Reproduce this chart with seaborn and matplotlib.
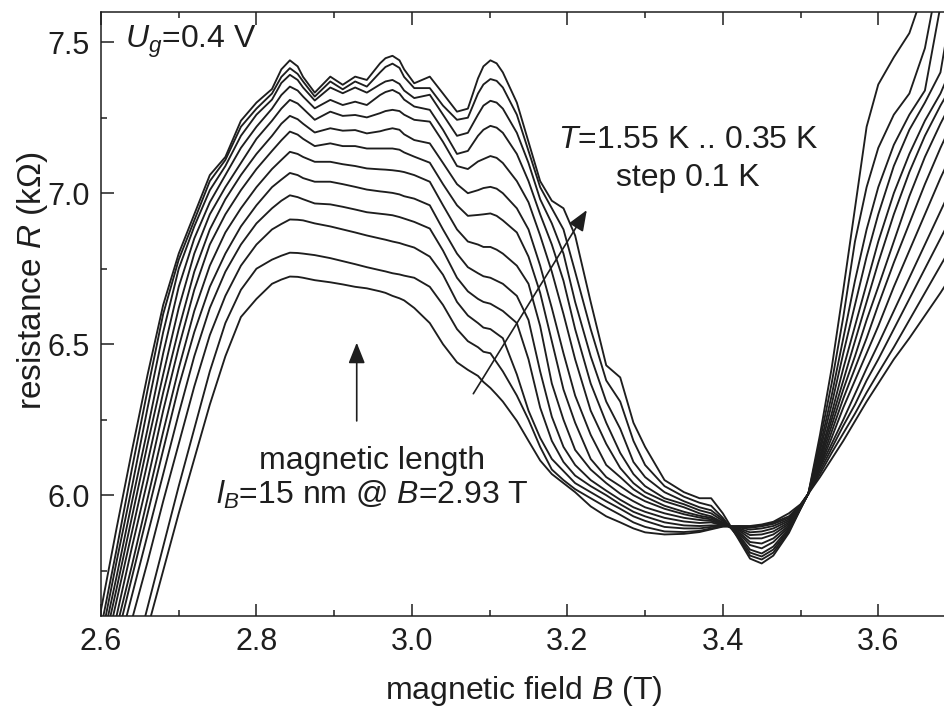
import numpy as np
import pandas as pd
import matplotlib
matplotlib.use("Agg")
import matplotlib.pyplot as plt
import seaborn as sns

# ---------------- data ----------------
field_B = [2.58, 2.60, 2.62, 2.64, 2.66, 2.68, 2.70, 2.72, 2.74, 2.76, 2.78, 2.80, 2.82,
           2.832, 2.843, 2.853,
           2.86, 2.875, 2.895, 2.911, 2.927, 2.942, 2.959,
           2.966, 2.975, 2.984,
           2.99, 3.003, 3.023, 3.04, 3.058, 3.072, 3.085,
           3.092, 3.101, 3.109,
           3.117, 3.135, 3.15, 3.165, 3.18, 3.195, 3.21, 3.23, 3.25, 3.268,
           3.285, 3.30, 3.325, 3.35, 3.37, 3.385, 3.40, 3.42, 3.435, 3.45,
           3.465, 3.485, 3.50, 3.51, 3.525, 3.54, 3.555, 3.57, 3.585, 3.60,
           3.62, 3.64, 3.66, 3.68, 3.70]

R_035 = [5.35, 5.62, 5.89, 6.15, 6.40, 6.63, 6.80, 6.93, 7.06, 7.12, 7.24, 7.30, 7.345,
         7.41, 7.44, 7.42,
         7.385, 7.333, 7.386, 7.359, 7.386, 7.375, 7.43,
         7.447, 7.455, 7.44,
         7.41, 7.364, 7.386, 7.33, 7.27, 7.28, 7.38,
         7.42, 7.44, 7.43,
         7.40, 7.30, 7.17, 7.04, 6.975, 6.95, 6.86, 6.64, 6.43, 6.39,
         6.24, 6.16, 6.05, 6.01, 5.99, 5.99, 5.94, 5.855, 5.79, 5.774,
         5.80, 5.875, 5.955, 6.005, 6.20, 6.42, 6.68, 6.95, 7.22, 7.36,
         7.45, 7.53, 7.68, 7.85, 8.0]
R_045 = [5.30, 5.56, 5.82, 6.09, 6.35, 6.60, 6.78, 6.91, 7.04, 7.11, 7.22, 7.28, 7.33,
         7.385, 7.414, 7.395,
         7.37, 7.32, 7.37, 7.344, 7.37, 7.353, 7.40,
         7.418, 7.429, 7.415,
         7.385, 7.348, 7.348, 7.29, 7.243, 7.25, 7.33,
         7.36, 7.378, 7.372,
         7.35, 7.26, 7.14, 7.02, 6.95, 6.88, 6.74, 6.55, 6.38, 6.31,
         6.18, 6.10, 6.03, 5.995, 5.975, 5.965, 5.925, 5.86, 5.80, 5.787,
         5.81, 5.88, 5.955, 6.005, 6.18, 6.37, 6.59, 6.84, 7.02, 7.15,
         7.26, 7.33, 7.48, 7.75, 8.0]
R_055 = [5.27, 5.52, 5.78, 6.03, 6.29, 6.54, 6.75, 6.89, 7.01, 7.09, 7.19, 7.26, 7.31,
         7.365, 7.392, 7.375,
         7.35, 7.307, 7.35, 7.331, 7.35, 7.333, 7.36,
         7.37, 7.375, 7.362,
         7.34, 7.315, 7.326, 7.26, 7.19, 7.20, 7.26,
         7.29, 7.306, 7.30,
         7.28, 7.20, 7.10, 6.98, 6.90, 6.80, 6.64, 6.46, 6.31, 6.22,
         6.11, 6.06, 6.01, 5.98, 5.96, 5.95, 5.92, 5.865, 5.81, 5.797,
         5.82, 5.885, 5.957, 6.005, 6.16, 6.33, 6.52, 6.71, 6.88, 7.02,
         7.16, 7.26, 7.34, 7.62, 7.9]
R_065 = [5.25, 5.49, 5.73, 5.98, 6.22, 6.47, 6.69, 6.85, 6.97, 7.06, 7.15, 7.22, 7.28,
         7.325, 7.353, 7.34,
         7.32, 7.281, 7.309, 7.292, 7.303, 7.292, 7.325,
         7.335, 7.342, 7.33,
         7.31, 7.287, 7.276, 7.21, 7.13, 7.14, 7.19,
         7.21, 7.223, 7.217,
         7.20, 7.13, 7.04, 6.93, 6.83, 6.71, 6.55, 6.37, 6.24, 6.14,
         6.07, 6.03, 5.99, 5.97, 5.95, 5.94, 5.915, 5.87, 5.82, 5.807,
         5.83, 5.89, 5.958, 6.005, 6.145, 6.30, 6.47, 6.63, 6.79, 6.93,
         7.09, 7.21, 7.30, 7.40, 7.7]
R_075 = [5.22, 5.46, 5.69, 5.93, 6.17, 6.40, 6.62, 6.80, 6.93, 7.02, 7.10, 7.18, 7.24,
         7.28, 7.309, 7.297,
         7.28, 7.243, 7.27, 7.256, 7.259, 7.251, 7.265,
         7.272, 7.276, 7.272,
         7.26, 7.243, 7.237, 7.17, 7.09, 7.08, 7.105,
         7.113, 7.123, 7.117,
         7.10, 7.04, 6.97, 6.86, 6.74, 6.60, 6.45, 6.28, 6.17, 6.09,
         6.04, 6.01, 5.98, 5.96, 5.94, 5.93, 5.91, 5.875, 5.835, 5.824,
         5.845, 5.895, 5.96, 6.005, 6.13, 6.27, 6.42, 6.56, 6.70, 6.84,
         7.00, 7.13, 7.24, 7.33, 7.45]
R_085 = [5.19, 5.42, 5.65, 5.88, 6.11, 6.34, 6.55, 6.74, 6.88, 6.98, 7.06, 7.13, 7.19,
         7.23, 7.256, 7.245,
         7.23, 7.201, 7.215, 7.207, 7.209, 7.198, 7.205,
         7.21, 7.215, 7.21,
         7.195, 7.176, 7.165, 7.10, 7.03, 7.00, 7.01,
         7.017, 7.021, 7.015,
         7.00, 6.95, 6.88, 6.76, 6.62, 6.47, 6.33, 6.20, 6.10, 6.06,
         6.02, 5.995, 5.965, 5.945, 5.932, 5.925, 5.907, 5.88, 5.845, 5.840,
         5.857, 5.90, 5.961, 6.005, 6.12, 6.25, 6.38, 6.51, 6.64, 6.77,
         6.93, 7.07, 7.19, 7.29, 7.38]
R_095 = [5.15, 5.37, 5.60, 5.83, 6.05, 6.28, 6.49, 6.68, 6.83, 6.93, 7.01, 7.08, 7.14,
         7.175, 7.204, 7.194,
         7.18, 7.156, 7.165, 7.156, 7.156, 7.148, 7.148,
         7.148, 7.148, 7.144,
         7.135, 7.121, 7.101, 7.03, 6.96, 6.925, 6.928,
         6.93, 6.933, 6.925,
         6.91, 6.87, 6.79, 6.67, 6.51, 6.35, 6.24, 6.12, 6.06, 6.03,
         6.00, 5.98, 5.955, 5.937, 5.926, 5.92, 5.905, 5.885, 5.857, 5.857,
         5.87, 5.905, 5.962, 6.005, 6.11, 6.23, 6.35, 6.46, 6.58, 6.69,
         6.84, 6.99, 7.12, 7.23, 7.33]
R_105 = [5.12, 5.34, 5.56, 5.77, 5.99, 6.21, 6.42, 6.61, 6.76, 6.87, 6.95, 7.02, 7.08,
         7.11, 7.137, 7.13,
         7.12, 7.104, 7.104, 7.096, 7.09, 7.082, 7.079,
         7.078, 7.076, 7.073,
         7.07, 7.06, 7.038, 6.96, 6.88, 6.84, 6.83,
         6.822, 6.822, 6.813,
         6.80, 6.76, 6.70, 6.56, 6.37, 6.25, 6.15, 6.085, 6.04, 6.005,
         5.98, 5.96, 5.94, 5.925, 5.918, 5.915, 5.903, 5.888, 5.868, 5.870,
         5.88, 5.91, 5.963, 6.005, 6.10, 6.21, 6.32, 6.42, 6.52, 6.63,
         6.77, 6.90, 7.03, 7.15, 7.26]
R_115 = [5.09, 5.30, 5.52, 5.73, 5.94, 6.15, 6.36, 6.54, 6.69, 6.80, 6.89, 6.96, 7.02,
         7.045, 7.067, 7.06,
         7.05, 7.038, 7.038, 7.03, 7.021, 7.012, 7.006,
         7.004, 7.001, 6.996,
         6.99, 6.982, 6.96, 6.88, 6.80, 6.755, 6.735,
         6.725, 6.72, 6.71,
         6.70, 6.66, 6.58, 6.41, 6.26, 6.16, 6.10, 6.05, 6.015, 5.985,
         5.96, 5.945, 5.925, 5.913, 5.908, 5.91, 5.90, 5.891, 5.877, 5.880,
         5.89, 5.915, 5.964, 6.005, 6.095, 6.19, 6.29, 6.38, 6.47, 6.56,
         6.69, 6.81, 6.93, 7.05, 7.16]
R_125 = [5.07, 5.27, 5.47, 5.67, 5.87, 6.07, 6.27, 6.46, 6.62, 6.74, 6.83, 6.90, 6.95,
         6.975, 6.993, 6.987,
         6.98, 6.966, 6.963, 6.955, 6.946, 6.937, 6.932,
         6.93, 6.927, 6.921,
         6.916, 6.905, 6.883, 6.81, 6.72, 6.675, 6.65,
         6.64, 6.634, 6.622,
         6.61, 6.57, 6.45, 6.29, 6.18, 6.11, 6.065, 6.03, 6.00, 5.97,
         5.945, 5.93, 5.91, 5.90, 5.898, 5.90, 5.90, 5.894, 5.886, 5.890,
         5.898, 5.92, 5.965, 6.005, 6.09, 6.17, 6.25, 6.335, 6.42, 6.50,
         6.61, 6.72, 6.83, 6.94, 7.05]
R_135 = [5.01, 5.20, 5.40, 5.59, 5.78, 5.98, 6.17, 6.36, 6.53, 6.66, 6.76, 6.83, 6.88,
         6.898, 6.913, 6.912,
         6.91, 6.90, 6.89, 6.88, 6.87, 6.86, 6.85,
         6.846, 6.84, 6.835,
         6.83, 6.82, 6.79, 6.73, 6.64, 6.595, 6.57,
         6.555, 6.55, 6.535,
         6.52, 6.40, 6.28, 6.19, 6.12, 6.08, 6.04, 6.01, 5.98, 5.955,
         5.93, 5.915, 5.895, 5.89, 5.89, 5.895, 5.898, 5.896, 5.892, 5.897,
         5.905, 5.925, 5.966, 6.005, 6.08, 6.155, 6.23, 6.30, 6.38, 6.45,
         6.55, 6.65, 6.75, 6.85, 6.95]
R_145 = [4.86, 5.03, 5.23, 5.43, 5.63, 5.83, 6.03, 6.22, 6.41, 6.57, 6.68, 6.75, 6.78,
         6.793, 6.803, 6.802,
         6.80, 6.795, 6.785, 6.775, 6.765, 6.755, 6.745,
         6.741, 6.735, 6.731,
         6.727, 6.72, 6.69, 6.63, 6.55, 6.51, 6.49,
         6.475, 6.47, 6.44,
         6.41, 6.33, 6.25, 6.16, 6.085, 6.05, 6.02, 5.99, 5.96, 5.935,
         5.91, 5.895, 5.88, 5.878, 5.882, 5.89, 5.897, 5.897, 5.896, 5.900,
         5.909, 5.93, 5.968, 6.005, 6.07, 6.14, 6.205, 6.27, 6.34, 6.405,
         6.49, 6.58, 6.67, 6.76, 6.85]
R_155 = [4.80, 5.01, 5.20, 5.38, 5.56, 5.75, 5.94, 6.12, 6.30, 6.46, 6.59, 6.65, 6.70,
         6.714, 6.724, 6.723,
         6.72, 6.712, 6.705, 6.698, 6.69, 6.685, 6.675,
         6.67, 6.66, 6.652,
         6.645, 6.62, 6.57, 6.50, 6.44, 6.415, 6.395,
         6.375, 6.355, 6.333,
         6.31, 6.246, 6.18, 6.115, 6.07, 6.04, 6.01, 5.963, 5.93, 5.91,
         5.89, 5.877, 5.87, 5.872, 5.878, 5.887, 5.896, 5.898, 5.898, 5.903,
         5.912, 5.94, 5.97, 6.005, 6.06, 6.12, 6.18, 6.245, 6.31, 6.37,
         6.45, 6.52, 6.595, 6.67, 6.75]

temperatures = [0.35, 0.45, 0.55, 0.65, 0.75, 0.85, 0.95, 1.05, 1.15, 1.25, 1.35, 1.45, 1.55]
curves = [R_035, R_045, R_055, R_065, R_075, R_085, R_095, R_105, R_115, R_125, R_135, R_145, R_155]

x_ticks = [2.6, 2.8, 3.0, 3.2, 3.4, 3.6]
y_ticks = [6.0, 6.5, 7.0, 7.5]

# ---------------- style ----------------
sns.set_style("ticks")
plt.rcParams['font.family'] = ['Liberation Sans', 'DejaVu Sans']
plt.rcParams['mathtext.fontset'] = 'custom'
plt.rcParams['mathtext.rm'] = 'Liberation Sans'
plt.rcParams['mathtext.it'] = 'Liberation Sans:italic'
plt.rcParams['mathtext.default'] = 'it'

ink = '#1e1e1e'
fs_tick = 22
fs_text = 23

frames = []
for T, R in zip(temperatures, curves):
    frames.append(pd.DataFrame({'B': field_B, 'R': R, 'T': T}))
df = pd.concat(frames, ignore_index=True)

fig = plt.figure(figsize=(9.44, 7.09), dpi=100)
ax = fig.add_axes([101 / 944, 93 / 709, 855 / 944, 604 / 709])

sns.lineplot(data=df, x='B', y='R', units='T', estimator=None, sort=False,
             color=ink, linewidth=1.35, ax=ax, legend=False)
for ln in ax.lines:
    ln.set_solid_joinstyle('round')

ax.set_xlim(2.6, 3.7)
ax.set_ylim(5.6, 7.6)
ax.set_xticks(x_ticks)
ax.set_xticklabels([f"{v:.1f}" for v in x_ticks])
ax.set_yticks(y_ticks)
ax.set_yticklabels([f"{v:.1f}" for v in y_ticks])
ax.xaxis.set_minor_locator(matplotlib.ticker.MultipleLocator(0.1))
ax.yaxis.set_minor_locator(matplotlib.ticker.MultipleLocator(0.25))
ax.tick_params(which='both', direction='in', top=True, right=True, color=ink, width=1.1)
ax.tick_params(which='major', length=9, labelsize=fs_tick, pad=8, labelcolor=ink)
ax.tick_params(which='minor', length=4.5)
for s in ax.spines.values():
    s.set_linewidth(1.1)
    s.set_color(ink)
    s.set_visible(True)

ax.set_xlabel("magnetic field $B$ (T)", fontsize=fs_text, color=ink)
ax.set_ylabel("resistance $R$ (k$\\mathrm{\\Omega}$)", fontsize=fs_text + 1, color=ink)
ax.xaxis.set_label_coords(0.495, -0.096)
ax.yaxis.set_label_coords(-0.06, 0.555)

# annotations
ax.text(2.631, 7.50, "$U_g$=0.4 V", fontsize=fs_text, color=ink, ha='left', va='center')
ax.text(3.355, 7.176, "$T$=1.55 K .. 0.35 K", fontsize=fs_text, color=ink, ha='center', va='center')
ax.text(3.355, 7.05, "step 0.1 K", fontsize=fs_text, color=ink, ha='center', va='center')
ax.text(2.949, 6.113, "magnetic length", fontsize=fs_text, color=ink, ha='center', va='center')
ax.text(2.949, 6.0, "$l_B$=15 nm @ $B$=2.93 T", fontsize=fs_text, color=ink, ha='center', va='center')

arrow = dict(arrowstyle='-|>,head_length=0.7,head_width=0.28', color=ink, lw=1.2,
             shrinkA=0, shrinkB=0, mutation_scale=18)
ax.annotate("", xy=(2.929, 6.505), xytext=(2.929, 6.246), arrowprops=arrow)
ax.annotate("", xy=(3.225, 6.944), xytext=(3.079, 6.336), arrowprops=arrow)

fig.savefig("out.png", dpi=100)
